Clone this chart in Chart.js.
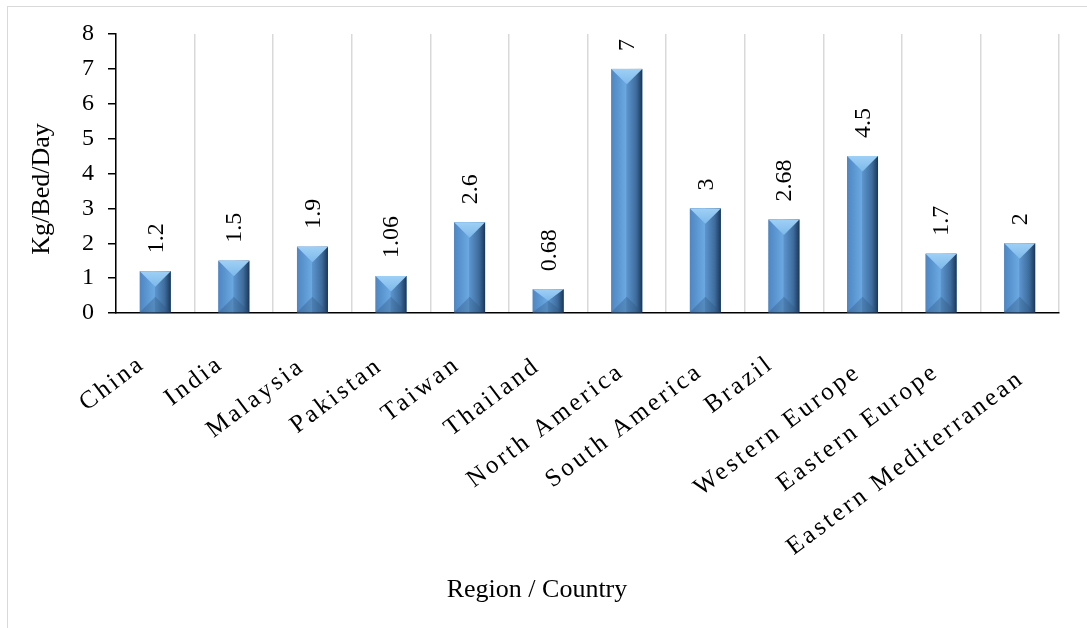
<!DOCTYPE html>
<html><head><meta charset="utf-8">
<script src="https://cdn.jsdelivr.net/npm/chart.js@4.4.0/dist/chart.umd.min.js"></script>
<style>
html,body{margin:0;padding:0;background:#fff;overflow:hidden;}
#wrap{position:relative;width:1087px;height:628px;}
#frame{position:absolute;left:7px;top:6px;width:1200px;height:800px;border:1.5px solid #d9d9d9;box-sizing:border-box;}
canvas{position:absolute;left:0;top:0;}
</style></head><body>
<div id="wrap"><div id="frame"></div><canvas id="c" width="1087" height="628"></canvas></div>
<script>
const categories = ['China','India','Malaysia','Pakistan','Taiwan','Thailand','North America','South America','Brazil','Western Europe','Eastern Europe','Eastern Mediterranean'];
const wasteValues = [1.2, 1.5, 1.9, 1.06, 2.6, 0.68, 7, 3, 2.68, 4.5, 1.7, 2];
const valueLabels = ['1.2','1.5','1.9','1.06','2.6','0.68','7','3','2.68','4.5','1.7','2'];
const yTickValues = [0, 1, 2, 3, 4, 5, 6, 7, 8];
const yTitle = 'Kg/Bed/Day';
const xTitle = 'Region / Country';

const FONT = '"Liberation Serif", "Times New Roman", serif';
const LABEL_SPACING = '3px';

const bevelBars = {
  id: 'bevelBars',
  afterDatasetsDraw(chart) {
    const ctx = chart.ctx;
    const meta = chart.getDatasetMeta(0);
    meta.data.forEach((bar, i) => {
      const p = bar.getProps(['x', 'y', 'base', 'width'], true);
      const L = p.x - p.width / 2, R = p.x + p.width / 2, T = p.y, B = p.base, h = B - T, w = p.width;
      const d = Math.min(w / 2, h / 2);
      ctx.save();
      const g = ctx.createLinearGradient(L, 0, R, 0);
      g.addColorStop(0, '#4e86c3');
      g.addColorStop(0.47, '#6ba8e1');
      g.addColorStop(0.5, '#5b94cd');
      g.addColorStop(0.8, '#3e6d9d');
      g.addColorStop(0.95, '#25446a');
      g.addColorStop(1, '#1b3350');
      ctx.fillStyle = g;
      ctx.fillRect(L, T, w, h);
      ctx.beginPath(); ctx.moveTo(L, T); ctx.lineTo(R, T); ctx.lineTo(p.x, T + d); ctx.closePath();
      const gt = ctx.createLinearGradient(0, T, 0, T + d);
      gt.addColorStop(0, '#9fd0f6'); gt.addColorStop(1, '#7db9ea');
      ctx.fillStyle = gt; ctx.fill();
      ctx.beginPath(); ctx.moveTo(L, B); ctx.lineTo(R, B); ctx.lineTo(p.x, B - d); ctx.closePath();
      ctx.fillStyle = 'rgba(45,85,130,0.35)'; ctx.fill();
      ctx.restore();
    });
  }
};

const valueText = {
  id: 'valueText',
  afterDatasetsDraw(chart) {
    const ctx = chart.ctx;
    const meta = chart.getDatasetMeta(0);
    ctx.save();
    ctx.font = '24px ' + FONT;
    ctx.fillStyle = '#000';
    ctx.textAlign = 'left';
    ctx.textBaseline = 'middle';
    meta.data.forEach((bar, i) => {
      const p = bar.getProps(['x', 'y'], true);
      ctx.save();
      ctx.translate(p.x + 1, p.y - 18);
      ctx.rotate(-Math.PI / 2);
      ctx.fillText(valueLabels[i], 0, 0);
      ctx.restore();
    });
    ctx.restore();
  }
};

const axisTitles = {
  id: 'axisTitles',
  afterDraw(chart) {
    const ctx = chart.ctx;
    ctx.save();
    ctx.fillStyle = '#000';
    ctx.font = '26px ' + FONT;
    ctx.textAlign = 'center';
    ctx.textBaseline = 'middle';
    ctx.fillText(xTitle, 537, 590);
    ctx.translate(42, 189);
    ctx.rotate(-Math.PI / 2);
    ctx.fillText(yTitle, 0, 0);
    ctx.restore();
  }
};

const spacedLabels = {
  id: 'spacedLabels',
  beforeDraw(chart) {
    const s = chart.scales.x;
    if (!s._spaced) {
      const orig = s.drawLabels;
      s.drawLabels = function (area) {
        const c = this.ctx;
        c.save();
        c.letterSpacing = LABEL_SPACING;
        const items = this.getLabelItems(area);
        items.forEach(it => {
          if (it._shifted) return;
          c.font = it.font.string;
          const w = c.measureText(String(it.label)).width;
          const k = Math.max(0, w - 80) * 0.07;
          it.options.translation = [it.options.translation[0] + k, it.options.translation[1] + k];
          it._shifted = true;
        });
        orig.call(this, area);
        c.restore();
      };
      s._spaced = true;
    }
  }
};

new Chart(document.getElementById('c'), {
  type: 'bar',
  data: {
    labels: categories,
    datasets: [{
      data: wasteValues,
      backgroundColor: '#4f88c5',
      borderWidth: 0,
      barPercentage: 0.394,
      categoryPercentage: 1
    }]
  },
  options: {
    responsive: false,
    devicePixelRatio: 1,
    animation: false,
    layout: { padding: { top: 34, right: 28, left: 0, bottom: 0 } },
    plugins: { legend: { display: false }, tooltip: { enabled: false } },
    scales: {
      x: {
        offset: true,
        grid: { display: true, color: '#d9d9d9', lineWidth: 1.5, offset: true, drawTicks: false },
        border: { display: true, color: '#000', width: 1.5 },
        ticks: {
          autoSkip: false, maxRotation: 37, minRotation: 37,
          font: { family: FONT, size: 25 }, color: '#000',
          padding: 36, labelOffset: -13
        },
        afterFit(scale) { scale.height = 315; }
      },
      y: {
        min: 0, max: 8,
        afterBuildTicks(scale) { scale.ticks = yTickValues.map(v => ({ value: v })); },
        grid: { drawOnChartArea: false, drawTicks: true, tickLength: 8, color: '#000', lineWidth: 1.5 },
        border: { display: true, color: '#000', width: 1.5 },
        ticks: { font: { family: FONT, size: 24 }, color: '#000', padding: 14 },
        afterFit(scale) { scale.width = 116; }
      }
    }
  },
  plugins: [bevelBars, valueText, axisTitles, spacedLabels]
});
</script>
</body></html>
